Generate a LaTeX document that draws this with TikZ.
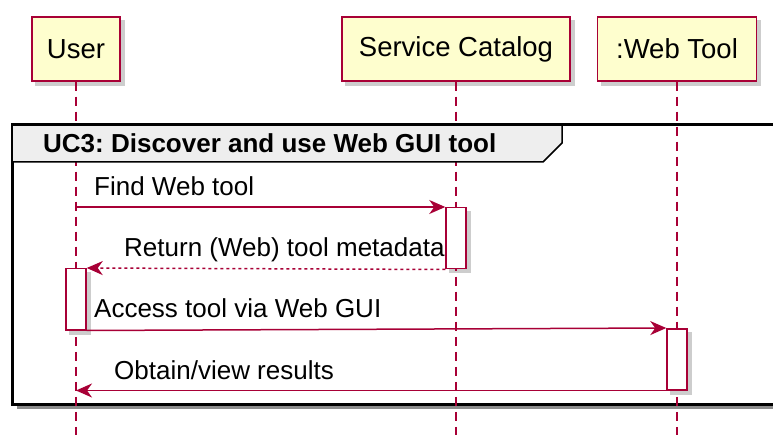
\documentclass[tikz,border=0pt]{standalone}
\usepackage{fontspec}
\setmainfont{Liberation Sans}
\frenchspacing
\usetikzlibrary{arrows.meta}
\usetikzlibrary{math}

\definecolor{umlred}{HTML}{A80036}
\definecolor{umlfill}{HTML}{FEFECE}
\definecolor{grouphead}{HTML}{EEEEEE}
\definecolor{shadowgray}{HTML}{CDCDCD}

\pgfdeclarelayer{shadowlayer}
\pgfdeclarelayer{framelayer}
\pgfsetlayers{framelayer,shadowlayer,main}

\tikzset{
    participant/.style={draw=umlred, fill=umlfill, line width=1.5pt,
        minimum height=64pt, inner sep=0pt,
        font=\fontsize{27.5}{32}\selectfont},
    lifeline/.style={umlred, line width=1.3pt, dash pattern=on 9pt off 6pt},
    activation/.style={draw=umlred, fill=white, line width=1.5pt,
        minimum width=20pt, minimum height=61pt, inner sep=0pt, anchor=north},
    message/.style={umlred, line width=1.5pt,
        -{Stealth[length=16pt, width=14pt, inset=5pt]}},
    reply/.style={message, dash pattern=on 3pt off 3pt},
    msglabel/.style={anchor=base west, inner sep=0pt,
        font=\fontsize{26}{30}\selectfont},
    boxshadow/.style={fill=shadowgray}
}

\begin{document}
\begin{tikzpicture}[x=1pt, y=-1pt]

\useasboundingbox (0,0) rectangle (773,435);

% Frame of the group
\begin{pgfonlayer}{framelayer}
    \fill[black!45] (17,130) rectangle (805,409);
    \draw[line width=3pt, fill=white] (12,125) rectangle (800,404);
\end{pgfonlayer}

% Participants
\node[participant, minimum width=88pt] (user) at (76,49) {User};
\node[participant, minimum width=228pt] (catalog) at (456,49) {Service Catalog};
\node[participant, minimum width=159pt] (webtool) at (677,49) {:Web Tool};

% Draws the lifelines
\foreach \p in {user, catalog, webtool} {
    \draw[lifeline] (\p.south) -- (\p |- 0,435);
}

% Group title tab
\draw[line width=1.5pt, fill=grouphead]
    (12,125) -- (562,125) -- (562,143) -- (543,162) -- (12,162) -- cycle;
\draw[line width=3pt] (12,125) -- (800,125);
\node[anchor=base west, inner sep=0pt, font=\bfseries\fontsize{26}{30}\selectfont]
    (title) at (43,153) {UC3: Discover and use Web GUI tool};

% Activations
\node[activation] (catAct) at (catalog |- 0,207) {};
\node[activation] (userAct) at (user |- 0,268) {};
\node[activation] (webAct) at (webtool |- 0,328) {};

% Messages
\draw[message] (user |- catAct.north) -- (catAct.north west);
\node[msglabel] (m1) at (94,196) {Find Web tool};

\draw[reply] (catAct.south west) -- (userAct.north east);
\node[msglabel] (m2) at (124,257) {Return (Web) tool metadata};

\draw[message] (userAct.south east) -- (webAct.north west);
\node[msglabel] (m3) at (94,317) {Access tool via Web GUI};

\draw[message] (webAct.south west) -- (user |- webAct.south);
\node[msglabel] (m4) at (114,379) {Obtain/view results};

% Shadows under the boxes
\begin{pgfonlayer}{shadowlayer}
    \foreach \n in {user, catalog, webtool, catAct, userAct, webAct} {
        \path[boxshadow] ([shift={(4,4)}]\n.south west)
            rectangle ([shift={(4,4)}]\n.north east);
    }
\end{pgfonlayer}

\end{tikzpicture}
\end{document}
